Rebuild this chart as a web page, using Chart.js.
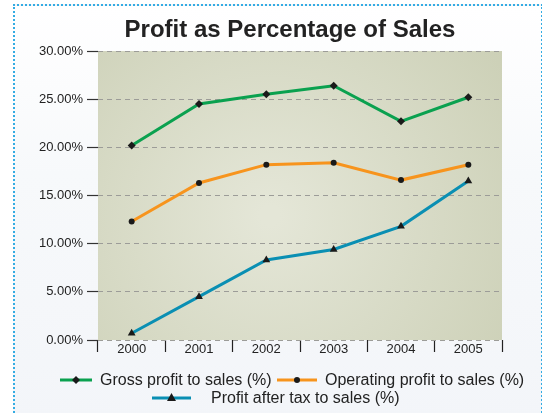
<!DOCTYPE html>
<html>
<head>
<meta charset="utf-8">
<script src="https://cdn.jsdelivr.net/npm/chart.js@4/dist/chart.umd.min.js"></script>
<style>
  html, body { margin: 0; padding: 0; background: #fff; }
  #wrap { position: relative; width: 542px; height: 413px; overflow: hidden; }
  #frame {
    position: absolute; left: 13px; top: 4px; width: 526px; height: 420px;
    border: 2px dotted #33ace3;
    background: linear-gradient(to bottom, #ffffff 0%, #f7f9fb 40%, #f3f5f9 100%);
  }
  canvas { position: absolute; left: 0; top: 0; }
</style>
</head>
<body>
<div id="wrap">
  <div id="frame"></div>
  <canvas id="chart" width="542" height="413"></canvas>
</div>
<script>
const years = ["2000", "2001", "2002", "2003", "2004", "2005"];
const grossProfit = [20.2, 24.5, 25.5, 26.4, 22.7, 25.2];
const operatingProfit = [12.3, 16.3, 18.2, 18.4, 16.6, 18.2];
const afterTaxProfit = [0.7, 4.5, 8.3, 9.4, 11.8, 16.5];
const seriesNames = ["Gross profit to sales (%)", "Operating profit to sales (%)", "Profit after tax to sales (%)"];
const yTicks = [0, 5, 10, 15, 20, 25, 30];
const chartTitle = "Profit as Percentage of Sales";

const colors = ["#0aa14f", "#f7941d", "#0a8fb3"];
const markers = ["rectRot", "circle", "triangle"];
const FONT = "'Liberation Sans', Arial, sans-serif";

// olive radial gradient behind the plot area
const plotBackground = {
  id: "plotBackground",
  beforeDraw(chart) {
    const { ctx, chartArea: a } = chart;
    const cx = (a.left + a.right) / 2 - 30, cy = (a.top + a.bottom) / 2 + 20;
    const g = ctx.createRadialGradient(cx, cy, 10, cx, cy, 300);
    g.addColorStop(0, "#e4e6d7");
    g.addColorStop(1, "#cbcfb5");
    ctx.save();
    ctx.fillStyle = g;
    ctx.fillRect(a.left, a.top, a.right - a.left, a.bottom - a.top);
    ctx.restore();
  }
};

function drawMarker(ctx, style, x, y) {
  ctx.fillStyle = "#1a1a1a";
  ctx.beginPath();
  if (style === "rectRot") {
    ctx.moveTo(x, y - 4); ctx.lineTo(x + 4, y); ctx.lineTo(x, y + 4); ctx.lineTo(x - 4, y);
  } else if (style === "circle") {
    ctx.arc(x, y, 3, 0, Math.PI * 2);
  } else {
    ctx.moveTo(x, y - 5); ctx.lineTo(x + 4.5, y + 3); ctx.lineTo(x - 4.5, y + 3);
  }
  ctx.closePath();
  ctx.fill();
}

// title (centred on the frame, not the plot) and two-row legend
const titleAndLegend = {
  id: "titleAndLegend",
  afterDraw(chart) {
    const ctx = chart.ctx;
    ctx.save();
    ctx.fillStyle = "#222";
    ctx.font = "bold 24px " + FONT;
    ctx.textAlign = "center";
    ctx.textBaseline = "alphabetic";
    ctx.fillText(chartTitle, 290, 37);

    const items = [
      { x0: 60, x1: 92, tx: 100, y: 380 },
      { x0: 277, x1: 317, tx: 325, y: 380 },
      { x0: 152, x1: 191, tx: 211, y: 398 }
    ];
    ctx.font = "16px " + FONT;
    ctx.textAlign = "left";
    ctx.textBaseline = "middle";
    items.forEach((it, i) => {
      ctx.strokeStyle = colors[i];
      ctx.lineWidth = 3;
      ctx.beginPath();
      ctx.moveTo(it.x0, it.y);
      ctx.lineTo(it.x1, it.y);
      ctx.stroke();
      drawMarker(ctx, markers[i], (it.x0 + it.x1) / 2, it.y);
      ctx.fillStyle = "#222";
      ctx.fillText(seriesNames[i], it.tx, it.y + 1);
    });
    ctx.restore();
  }
};

const datasets = [grossProfit, operatingProfit, afterTaxProfit].map((d, i) => ({
  label: seriesNames[i],
  data: d,
  borderColor: colors[i],
  borderWidth: 3,
  pointStyle: markers[i],
  pointRadius: i === 2 ? 4.5 : (i === 1 ? 3 : 4),
  pointBackgroundColor: "#1a1a1a",
  pointBorderColor: "#1a1a1a",
  pointBorderWidth: 0,
  tension: 0
}));

new Chart(document.getElementById("chart"), {
  type: "line",
  data: { labels: years, datasets },
  options: {
    responsive: false,
    animation: false,
    layout: { padding: { left: 0, right: 40, top: 51, bottom: 53 } },
    plugins: {
      legend: { display: false },
      tooltip: { enabled: false },
      title: { display: false }
    },
    scales: {
      x: {
        offset: true,
        afterFit(s) { s.height = 20; },
        grid: {
          offset: true,
          drawOnChartArea: false,
          drawTicks: true,
          tickLength: 12,
          tickColor: "#222",
          tickWidth: 1.2
        },
        border: { display: false },
        ticks: {
          color: "#222",
          padding: -10,
          font: { family: FONT, size: 13 }
        }
      },
      y: {
        min: 0,
        max: 30,
        afterFit(s) { s.width = 98; },
        afterBuildTicks(s) { s.ticks = yTicks.map(v => ({ value: v })); },
        grid: {
          color: "#9c9c98",
          lineWidth: 1,
          drawTicks: true,
          tickLength: 11,
          tickColor: "#333",
          tickWidth: 1.2,
          tickBorderDash: []
        },
        border: { display: false, dash: [5, 4] },
        ticks: {
          color: "#222",
          padding: 4,
          font: { family: FONT, size: 13 },
          callback: v => Number(v).toFixed(2) + "%"
        }
      }
    }
  },
  plugins: [plotBackground, titleAndLegend]
});
</script>
</body>
</html>
